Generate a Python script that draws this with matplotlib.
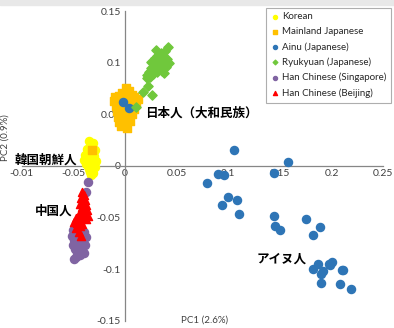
import matplotlib
matplotlib.use("Agg")
import matplotlib.pyplot as plt
from matplotlib.patches import Rectangle

plt.rcParams['font.family'] = ['Lato', 'Noto Sans CJK JP', 'DejaVu Sans']

# PCA coordinates
korean_x = [-0.035, -0.031, -0.033, -0.037, -0.029, -0.034, -0.039, -0.030, -0.036, -0.032, -0.040, -0.028,
            -0.034, -0.038, -0.031, -0.036, -0.033, -0.029, -0.035, -0.032, -0.034, -0.031, -0.033]
korean_y = [0.024, 0.022, 0.018, 0.016, 0.015, 0.013, 0.011, 0.010, 0.008, 0.007, 0.006, 0.005,
            0.004, 0.002, 0.001, 0.000, -0.002, -0.001, -0.003, -0.004, -0.006, -0.007, -0.009]

mainland_x = [0.001, 0.004, -0.003, 0.000, 0.007, -0.010, -0.006, -0.002, 0.003, 0.009, 0.013, -0.011,
              -0.005, 0.001, 0.005, 0.011, -0.009, -0.004, 0.000, 0.004, 0.009, -0.008, -0.003, 0.002,
              0.007, -0.007, -0.002, 0.004, -0.006, 0.000, 0.005, -0.004, 0.002, -0.032]
mainland_y = [0.076, 0.073, 0.071, 0.070, 0.069, 0.067, 0.068, 0.066, 0.066, 0.067, 0.065, 0.063,
              0.062, 0.061, 0.062, 0.060, 0.058, 0.057, 0.056, 0.058, 0.055, 0.053, 0.052, 0.051,
              0.050, 0.047, 0.046, 0.048, 0.043, 0.042, 0.044, 0.039, 0.037, 0.0155]

ainu_x = [0.1057, 0.158, 0.090, 0.0957, 0.1444, 0.0798, 0.0999, 0.1086, 0.0941, 0.1105, 0.1441, 0.1451,
          0.1502, 0.1753, 0.1886, 0.1815, 0.187, 0.182, 0.1983, 0.1999, 0.1918, 0.1896, 0.2096, 0.2108,
          0.1893, 0.2082, 0.2183, 0.197, -0.0016, 0.0042]
ainu_y = [0.0155, 0.0042, -0.008, -0.0087, -0.0071, -0.0168, -0.030, -0.0332, -0.0378, -0.0468, -0.0484, -0.0578,
          -0.0617, -0.0514, -0.0588, -0.0672, -0.0952, -0.1001, -0.0959, -0.0927, -0.1015, -0.1049, -0.1008, -0.1008,
          -0.1131, -0.1146, -0.1192, -0.095, 0.0623, 0.0559]

ryukyu_x = [0.042, 0.039, 0.035, 0.031, 0.029, 0.034, 0.037, 0.041, 0.032, 0.036, 0.027, 0.031, 0.034,
            0.038, 0.025, 0.029, 0.023, 0.021, 0.027, 0.031, 0.033, 0.036, 0.040, 0.024, 0.021, 0.017,
            0.0225, 0.026, 0.011, 0.043, 0.030, 0.025, 0.038]
ryukyu_y = [0.115, 0.111, 0.109, 0.107, 0.105, 0.104, 0.106, 0.104, 0.102, 0.101, 0.100, 0.097, 0.099,
            0.097, 0.095, 0.093, 0.091, 0.088, 0.089, 0.091, 0.094, 0.092, 0.096, 0.086, 0.085, 0.072,
            0.0775, 0.069, 0.057, 0.100, 0.112, 0.101, 0.090]

sing_x = [-0.0355, -0.038, -0.047, -0.050, -0.044, -0.040, -0.048, -0.051, -0.043, -0.038, -0.046, -0.049, -0.041,
          -0.044, -0.047, -0.050, -0.039, -0.042, -0.045, -0.048, -0.043, -0.046, -0.040, -0.044, -0.047, -0.049]
sing_y = [-0.016, -0.025, -0.059, -0.062, -0.063, -0.064, -0.066, -0.068, -0.068, -0.069, -0.070, -0.072, -0.073,
          -0.074, -0.075, -0.077, -0.077, -0.078, -0.079, -0.080, -0.082, -0.083, -0.084, -0.086, -0.088, -0.090]

beij_x = [-0.042, -0.040, -0.043, -0.039, -0.041, -0.044, -0.038, -0.042, -0.040, -0.037, -0.043, -0.039, -0.045,
          -0.036, -0.041, -0.047, -0.044, -0.038, -0.049, -0.046, -0.042, -0.044, -0.047, -0.045, -0.043]
beij_y = [-0.025, -0.028, -0.031, -0.033, -0.035, -0.037, -0.038, -0.040, -0.042, -0.043, -0.045, -0.046, -0.047,
          -0.048, -0.049, -0.050, -0.052, -0.051, -0.054, -0.055, -0.056, -0.058, -0.060, -0.064, -0.068]

xticks = [-0.1, -0.05, 0, 0.05, 0.1, 0.15, 0.2, 0.25]
xtick_labels = ['-0.01', '-0.05', '0', '0.05', '0.1', '0.15', '0.2', '0.25']
yticks = [-0.15, -0.1, -0.05, 0, 0.05, 0.1, 0.15]
ytick_labels = ['-0.15', '-0.1', '-0.05', '0', '0.05', '0.1', '0.15']

fig = plt.figure(figsize=(3.94, 3.28), dpi=100)
fig.patches.append(Rectangle((0, 0.985), 1, 0.015, transform=fig.transFigure,
                             color='#e8e8e8', zorder=0))
ax = fig.add_axes([0.055, 0.022, 0.918, 0.944])

ax.scatter(korean_x, korean_y, s=34, marker='o', color='#FFFF00', label='Korean', zorder=3)
ax.scatter(mainland_x, mainland_y, s=30, marker='s', color='#FFC000', label='Mainland Japanese', zorder=3)
ax.scatter(ainu_x, ainu_y, s=34, marker='o', color='#2E75B6', label='Ainu (Japanese)', zorder=3)
ax.scatter(ryukyu_x, ryukyu_y, s=22, marker='D', color='#70C83C', label='Ryukyuan (Japanese)', zorder=3)
ax.scatter(sing_x, sing_y, s=34, marker='o', color='#8064A2', label='Han Chinese (Singapore)', zorder=3)
ax.scatter(beij_x, beij_y, s=34, marker='^', color='#FF0000', label='Han Chinese (Beijing)', zorder=3)

ax.set_xlim(-0.1, 0.25)
ax.set_ylim(-0.15, 0.15)
for s in ['top', 'right']:
    ax.spines[s].set_visible(False)
ax.spines['left'].set_position(('data', 0))
ax.spines['bottom'].set_position(('data', 0))
for s in ['left', 'bottom']:
    ax.spines[s].set_color('#868686')
    ax.spines[s].set_linewidth(0.9)
ax.set_xticks(xticks)
ax.set_xticklabels(xtick_labels)
ax.set_yticks(yticks)
ax.set_yticklabels(ytick_labels)
ax.tick_params(length=0, labelsize=7.5, labelcolor='#404040')
ax.tick_params(axis='x', pad=2)
ax.tick_params(axis='y', pad=3)

fig.text(0.013, 0.58, 'PC2 (0.9%)', rotation=90, fontsize=7, color='#404040', ha='center', va='center')
fig.text(0.518, 0.025, 'PC1 (2.6%)', fontsize=7, color='#404040', ha='center', va='center')

jp = dict(fontsize=9, fontweight='bold', family=['Noto Sans CJK JP'], va='center', zorder=5)
ax.text(0.0193, 0.0514, '日本人（大和民族）', **jp)
ax.text(-0.1064, 0.0058, '韓国朝鮮人', clip_on=False, **jp)
ax.text(-0.087, -0.0433, '中国人', **jp)
ax.text(0.1274, -0.090, 'アイヌ人', **jp)

leg = ax.legend(loc='upper right', bbox_to_anchor=(0.993, 0.977), bbox_transform=fig.transFigure,
                fontsize=7, frameon=True, fancybox=False, markerscale=0.5, handlelength=0.8,
                handletextpad=0.3, borderpad=0.5, labelspacing=0.6, borderaxespad=0)
leg.get_frame().set_edgecolor('#9a9a9a')
leg.get_frame().set_linewidth(0.8)
for t in leg.get_texts():
    t.set_color('#262626')

fig.savefig('out.png', dpi=100)
